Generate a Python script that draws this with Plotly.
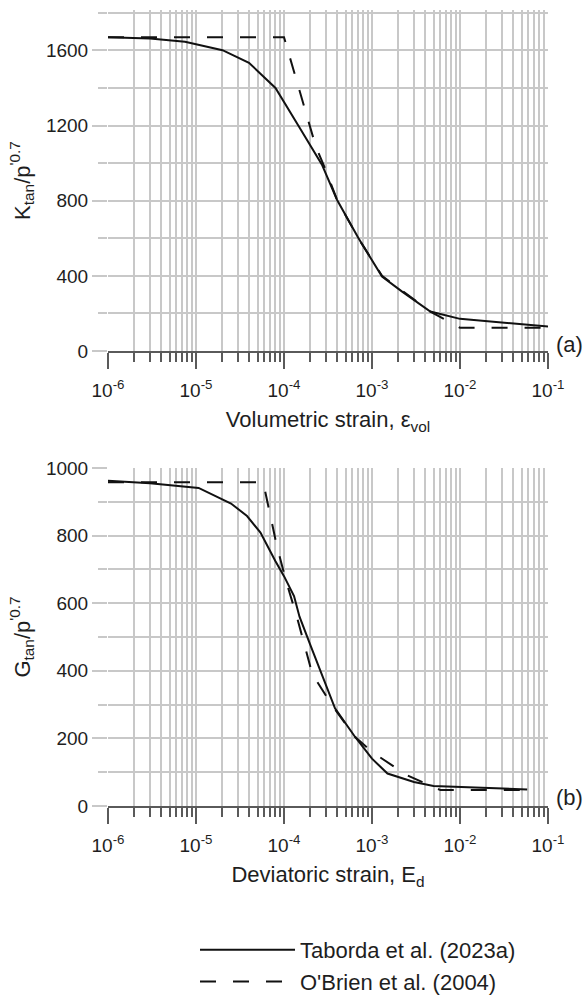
import plotly.graph_objects as go

# ---- data ----
K_strain_taborda = [1e-6, 3e-6, 7.5e-6, 2e-5, 4e-5, 8e-5, 1.5e-4, 2.7e-4, 4e-4, 7e-4, 1.3e-3, 2.2e-3, 4.6e-3, 1e-2, 1e-1]
K_taborda = [1670, 1663, 1646, 1601, 1534, 1400, 1190, 992, 805, 601, 396, 316, 210, 171, 130]

K_strain_obrien = [1e-6, 1e-4, 2.3e-4, 3e-4, 4e-4, 7e-4, 1.3e-3, 2.2e-3, 4.6e-3, 1e-2, 1e-1]
K_obrien = [1670, 1670, 1088, 960, 805, 600, 400, 320, 210, 124, 124]

G_strain_taborda = [1e-6, 3e-6, 1.07e-5, 2.5e-5, 3.8e-5, 5.4e-5, 8e-5, 1e-4, 1.3e-4, 1.5e-4, 2e-4, 2.8e-4, 3.8e-4, 6.4e-4, 1e-3, 1.5e-3, 3e-3, 5e-3, 5.8e-2]
G_taborda = [962, 955, 941, 895, 858, 809, 724, 680, 621, 560, 475, 375, 289, 205, 140, 96, 71, 59, 49]

G_strain_obrien = [1e-6, 5.8e-5, 8.3e-5, 1.07e-4, 1.4e-4, 2.1e-4, 3.6e-4, 6.4e-4, 1e-3, 2.5e-3, 6e-3, 6e-2]
G_obrien = [958, 958, 769, 660, 560, 390, 294, 205, 160, 91, 47, 47]

x_tick_vals = [1e-6, 1e-5, 1e-4, 1e-3, 1e-2, 1e-1]
x_tick_text = ["10<sup>-6</sup>", "10<sup>-5</sup>", "10<sup>-4</sup>", "10<sup>-3</sup>", "10<sup>-2</sup>", "10<sup>-1</sup>"]
K_tick_vals = [0, 400, 800, 1200, 1600]
K_minor_vals = [200, 600, 1000, 1400, 1800]
G_tick_vals = [0, 200, 400, 600, 800, 1000]
G_minor_vals = [100, 300, 500, 700, 900]

series_names = ["Taborda et al. (2023a)", "O'Brien et al. (2004)"]

# ---- style ----
FONT = "Liberation Sans, Arial, sans-serif"
TXT = "#1e1e1e"
GRID = "#c8c8c8"
AXIS = "#5a5a5a"
LINE = "#111111"
DASH = "16px,17px"
W, H = 584, 999

fig = go.Figure()

fig.add_trace(go.Scatter(x=K_strain_taborda, y=K_taborda, mode="lines", name=series_names[0],
                         line=dict(color=LINE, width=2), xaxis="x", yaxis="y", legendgroup="t"))
fig.add_trace(go.Scatter(x=K_strain_obrien, y=K_obrien, mode="lines", name=series_names[1],
                         line=dict(color=LINE, width=2, dash=DASH), xaxis="x", yaxis="y", legendgroup="o"))
fig.add_trace(go.Scatter(x=G_strain_taborda, y=G_taborda, mode="lines", name=series_names[0],
                         line=dict(color=LINE, width=2), xaxis="x2", yaxis="y2", legendgroup="t", showlegend=False))
fig.add_trace(go.Scatter(x=G_strain_obrien, y=G_obrien, mode="lines", name=series_names[1],
                         line=dict(color=LINE, width=2, dash=DASH), xaxis="x2", yaxis="y2", legendgroup="o", showlegend=False))

xdom = [108 / W, 548 / W]


def xaxis_cfg(title, anchor):
    return dict(
        type="log", range=[-6, -1], domain=xdom, anchor=anchor, automargin=False,
        tickmode="array", tickvals=x_tick_vals, ticktext=x_tick_text,
        ticks="outside", ticklen=16, tickwidth=1.5, tickcolor=AXIS,
        ticklabelstandoff=5,
        showline=True, linecolor=AXIS, linewidth=2,
        showgrid=True, gridcolor=GRID, gridwidth=1.5,
        minor=dict(dtick="D1", ticks="outside", ticklen=9, tickwidth=1.5, tickcolor=AXIS,
                   showgrid=True, gridcolor=GRID, gridwidth=1.5),
        tickfont=dict(family=FONT, size=19, color=TXT),
        title=dict(text=title, font=dict(family=FONT, size=22, color=TXT), standoff=12),
        zeroline=False, fixedrange=True,
    )


def yaxis_cfg(title, rng, tickvals, minorvals, dom, anchor):
    return dict(
        range=rng, domain=dom, anchor=anchor, automargin=False,
        tickmode="array", tickvals=tickvals,
        ticks="outside", ticklen=15, tickwidth=1.5, tickcolor=GRID,
        showgrid=True, gridcolor=GRID, gridwidth=1.5,
        minor=dict(tickmode="array", tickvals=minorvals, ticks="outside", ticklen=9,
                   tickwidth=1.5, tickcolor=GRID,
                   showgrid=True, gridcolor=GRID, gridwidth=1.5),
        showline=False, zeroline=False,
        tickfont=dict(family=FONT, size=19, color=TXT),
        title=dict(text=title, font=dict(family=FONT, size=22, color=TXT), standoff=9),
        fixedrange=True,
    )


fig.update_layout(
    width=W, height=H,
    margin=dict(l=0, r=0, t=0, b=0, autoexpand=False),
    paper_bgcolor="white", plot_bgcolor="white",
    font=dict(family=FONT, color=TXT),
    xaxis=xaxis_cfg("Volumetric strain, ε<sub>vol</sub>", "y"),
    yaxis=yaxis_cfg("K<sub>tan</sub>/p<sup>'0.7</sup>", [0, 1815], K_tick_vals, K_minor_vals,
                    [1 - 351 / H, 1 - 10 / H], "x"),
    xaxis2=xaxis_cfg("Deviatoric strain, E<sub>d</sub>", "y2"),
    yaxis2=yaxis_cfg("G<sub>tan</sub>/p<sup>'0.7</sup>", [0, 1000], G_tick_vals, G_minor_vals,
                     [1 - 806 / H, 1 - 468 / H], "x2"),
    showlegend=True,
    legend=dict(x=195 / W, y=1 - 929 / H, xanchor="left", yanchor="top",
                font=dict(family=FONT, size=22, color=TXT), itemwidth=95,
                bgcolor="rgba(0,0,0,0)", tracegroupgap=0),
    annotations=[
        dict(text="(a)", x=554 / W, y=1 - 344 / H, xref="paper", yref="paper",
             xanchor="left", yanchor="middle", showarrow=False,
             font=dict(family=FONT, size=22, color=TXT)),
        dict(text="(b)", x=554 / W, y=1 - 797 / H, xref="paper", yref="paper",
             xanchor="left", yanchor="middle", showarrow=False,
             font=dict(family=FONT, size=22, color=TXT)),
    ],
)

fig.write_html("out.html")
